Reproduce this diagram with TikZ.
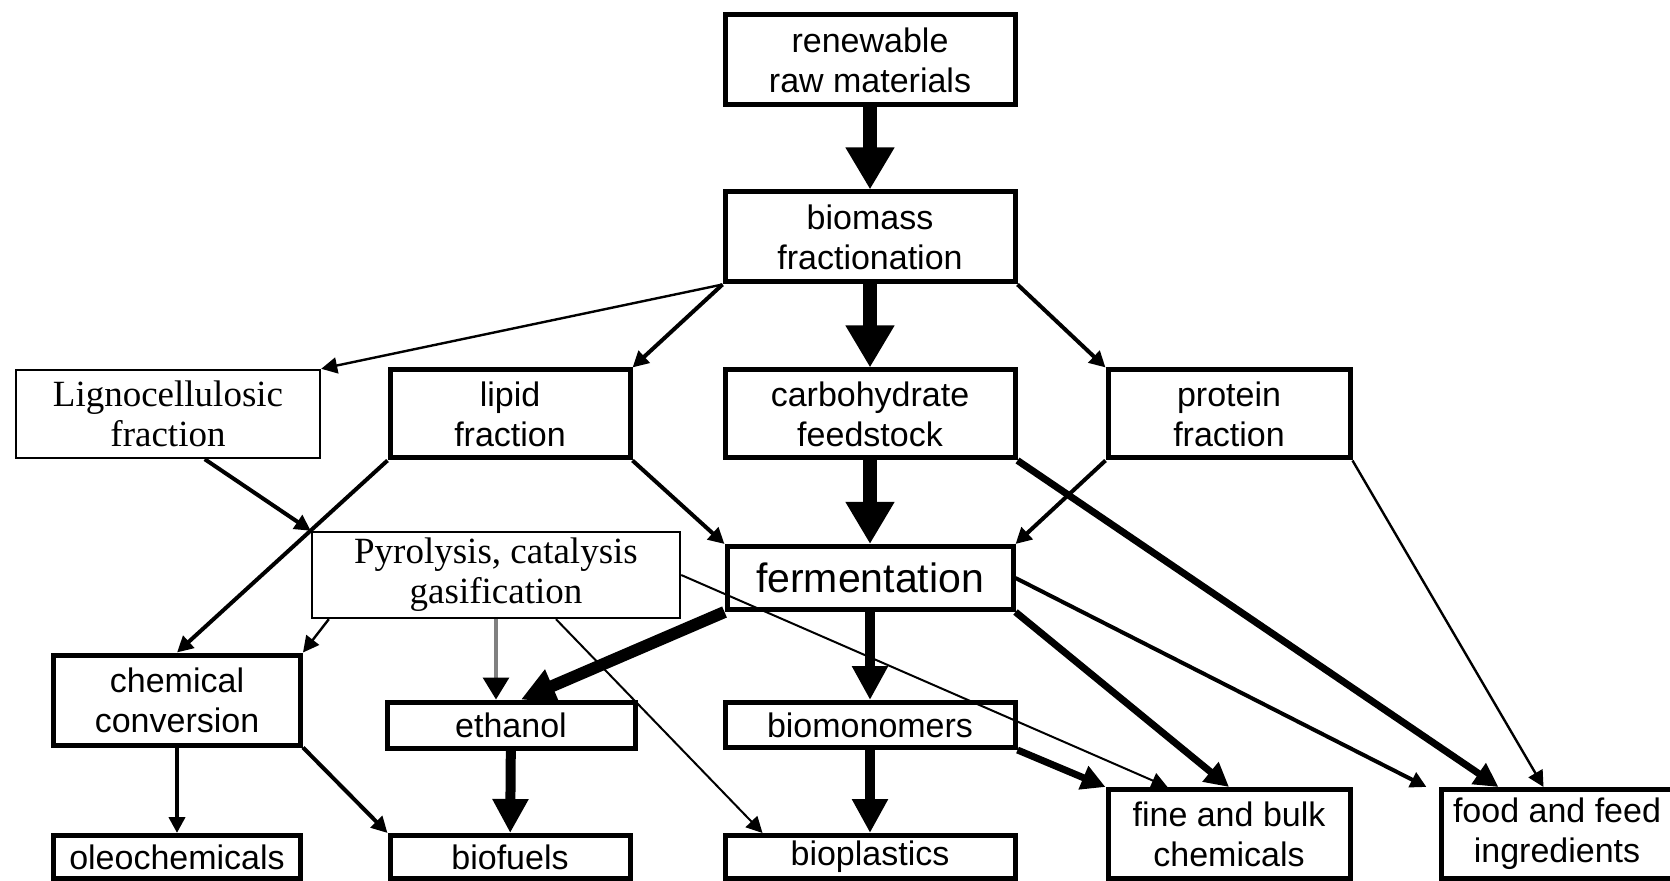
\documentclass[tikz,border=0pt]{standalone}
\usepackage{fontspec}
\setmainfont{Liberation Sans}
\newfontfamily\timesfont{Liberation Serif}
\usetikzlibrary{calc,arrows.meta}
\tikzset{flow/.style={x=0.5pt,y=-0.5pt,line join=miter},
  stage/.style={draw,line width=2.5pt,fill=white,inner sep=0pt,align=center,
    font=\fontsize{17}{20}\selectfont},
  process/.style={stage,line width=1.2pt,font=\timesfont\fontsize{18.5}{20}\selectfont},
  heavy/.style={line width=7pt,-{Triangle[width=23pt,length=21pt]}},
  strong/.style={line width=5pt,-{Triangle[width=17pt,length=17pt]}},
  firm/.style={line width=3.5pt,-{Triangle[width=12pt,length=12pt]}},
  plain/.style={line width=2pt,-{Triangle[width=8pt,length=8pt]}},
  faint/.style={line width=1.2pt,-{Triangle[width=8pt,length=8pt]}}
}

\begin{document}
\begin{tikzpicture}[flow]
  \useasboundingbox (0,0) rectangle (1670,881);

  \node[stage,minimum width=145pt,minimum height=45pt] (raw) at (870,60) {renewable\\raw materials};
  \node[stage,minimum width=145pt,minimum height=45pt] (biomass) at (870,237) {biomass\\fractionation};
  \node[process,minimum width=152pt,minimum height=44pt] (ligno) at (168,414) {Lignocellulosic\\fraction};
  \node[stage,minimum width=120pt,minimum height=44pt] (lipid) at (510,414) {lipid\\fraction};
  \node[stage,minimum width=145pt,minimum height=44pt] (carbo) at (870,414) {carbohydrate\\feedstock};
  \node[stage,minimum width=121pt,minimum height=44pt] (protein) at (1229,414) {protein\\fraction};
  \node[process,minimum width=184pt,minimum height=43pt] (pyro) at (496,575) {Pyrolysis, catalysis\\gasification};
  \node[stage,minimum width=143pt,minimum height=31.5pt,font=\fontsize{20.5}{24}\selectfont] (ferment) at (870,578) {fermentation};
  \node[stage,minimum width=123.5pt,minimum height=45pt] (chem) at (177,700) {chemical\\conversion};
  \node[stage,minimum width=124pt,minimum height=23pt] (ethanol) at (511,725) {ethanol};
  \node[stage,minimum width=145pt,minimum height=22.5pt] (biomon) at (870,725) {biomonomers};
  \node[stage,minimum width=123.5pt,minimum height=21.5pt] (oleo) at (177,857) {oleochemicals};
  \node[stage,minimum width=120pt,minimum height=21.5pt] (biofuels) at (510,857) {biofuels};
  \node[stage,minimum width=145pt,minimum height=21.5pt] (bioplastics) at (870,857) {bioplastics};
  \node[stage,minimum width=121pt,minimum height=44.5pt] (fine) at (1229,834) {fine and bulk\\chemicals};
  \node[stage,minimum width=116pt,minimum height=44.5pt] (food) at (1557,834) {food and feed\\ingredients};

  % from raw materials down to the fractions
  \draw[heavy] (raw) -- (biomass);
  \draw[heavy] (biomass) -- (carbo);
  \draw[heavy] (carbo) -- (ferment);
  \draw[faint] (biomass.south west) -- (ligno.north east);
  \draw[plain] (biomass.south west) -- (lipid.north east);
  \draw[plain] (biomass.south east) -- (protein.north west);

  % fractions to conversion routes
  \draw[plain] ($(ligno.south west)!0.62!(ligno.south east)$) -- (pyro.north west);
  \draw[plain] (lipid.south west) -- (chem.north);
  \draw[plain] (lipid.south east) -- (ferment.north west);
  \draw[plain] (protein.south west) -- (ferment.north east);
  \draw[firm] (carbo.south east) -- ($(food.north west)+(60,0)$);
  \draw[faint] (protein.south east) -- ($(food.north west)+(105,0)$);

  % pyrolysis route
  \draw[faint] ($(pyro.south west)+(18,0)$) -- (chem.north east);
  \draw[gray,line width=1.6pt,-{Triangle[width=13pt,length=11pt,color=black]}] (pyro.south) -- (pyro.south |- ethanol.north);
  \draw[faint,line width=1pt] ($(pyro.south)+(60,0)$) -- ($(bioplastics.north west)+(40,0)$);
  \draw[faint,line width=1pt] (pyro.east) -- ($(fine.north west)+(62,0)$);

  % fermentation products
  \draw[strong,line width=6pt] (ferment.south west) -- ($(ethanol.north)+(10,0)$);
  \draw[strong] (ferment) -- (biomon);
  \draw[firm] (ferment.south east) -- (fine.north);
  \draw[plain] (ferment.east) -- ($(food.north west)+(-12,0)$);
  \draw[strong] (biomon) -- (bioplastics);
  \draw[firm] (biomon.south east) -- (fine.north west);

  % chemical conversion and ethanol
  \draw[plain] (chem) -- (oleo);
  \draw[plain] (chem.south east) -- (biofuels.north west);
  \draw[strong] (ethanol) -- (biofuels);
\end{tikzpicture}
\end{document}
